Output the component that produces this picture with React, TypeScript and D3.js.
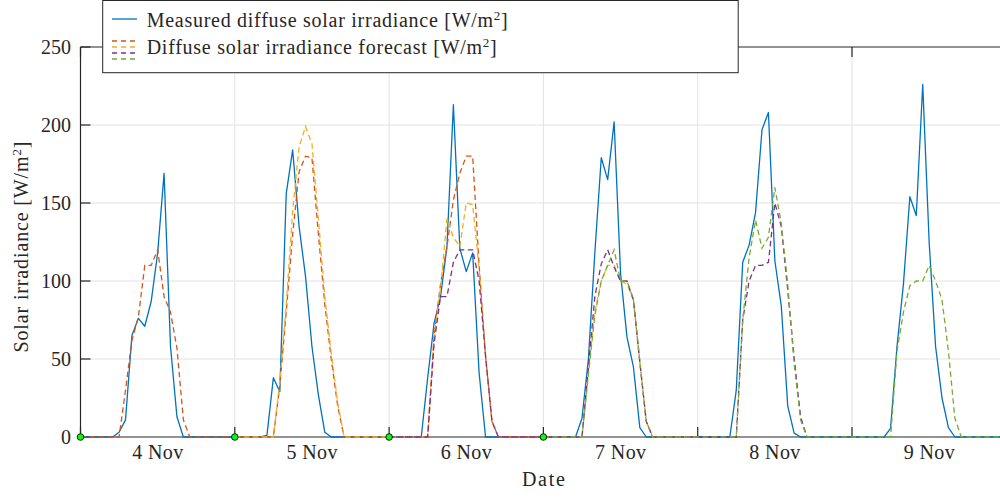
import React from "react";
import * as d3 from "d3";

// ---------- DATA (hourly values, index = hour of day) ----------
const days = ["4 Nov", "5 Nov", "6 Nov", "7 Nov", "8 Nov", "9 Nov"];
const yTicks = [0, 50, 100, 150, 200, 250];

const measuredNov4 = [0, 0, 0, 0, 0, 0, 3, 11, 65, 76, 71, 87, 118, 169, 58, 13, 0, 0, 0, 0, 0, 0, 0, 0];
const measuredNov5 = [0, 0, 0, 0, 0, 1, 38, 29, 156, 184, 135, 103, 58, 27, 3, 0, 0, 0, 0, 0, 0, 0, 0, 0];
const measuredNov6 = [0, 0, 0, 0, 0, 0, 38, 73, 90, 122, 213, 121, 106, 118, 41, 0, 0, 0, 0, 0, 0, 0, 0, 0];
const measuredNov7 = [0, 0, 0, 0, 0, 0, 12, 50, 118, 179, 165, 202, 105, 64, 45, 6, 0, 0, 0, 0, 0, 0, 0, 0];
const measuredNov8 = [0, 0, 0, 0, 0, 0, 30, 112, 123, 144, 197, 208, 113, 84, 20, 2.5, 0, 0, 0, 0, 0, 0, 0, 0];
const measuredNov9 = [0, 0, 0, 0, 0, 0, 5.5, 58, 98, 154, 142, 226, 125, 58, 25, 6, 0, 0, 0, 0, 0, 0, 0, 0];
const measuredEnd = [0];

// forecast issued 4 Nov 00:00 (72 h)
const forecast1Day1 = [0, 0, 0, 0, 0, 0, 0, 30, 62, 77, 110, 110, 120, 90, 80, 57, 11, 0, 0, 0, 0, 0, 0, 0];
const forecast1Day2 = [0, 0, 0, 0, 0, 0, 0, 33, 80, 130, 170, 180, 179, 130, 85, 50, 20, 0, 0, 0, 0, 0, 0, 0];
const forecast1Day3 = [0, 0, 0, 0, 0, 0, 0, 65, 98, 122, 152, 169, 180, 180, 110, 52, 10, 0, 0, 0, 0, 0, 0, 0];
// forecast issued 5 Nov 00:00
const forecast2Day1 = [0, 0, 0, 0, 0, 0, 0, 35, 85, 145, 186, 199, 188, 140, 90, 54, 22, 0, 0, 0, 0, 0, 0, 0];
const forecast2Day2 = [0, 0, 0, 0, 0, 0, 0, 65, 95, 140, 128, 122, 150, 149, 108, 52, 10, 0, 0, 0, 0, 0, 0, 0];
const forecast2Day3 = [0, 0, 0, 0, 0, 0, 0, 42, 80, 100, 110, 110, 100, 98, 88, 48, 10, 0, 0, 0, 0, 0, 0, 0];
// forecast issued 6 Nov 00:00
const forecast3Day1 = [0, 0, 0, 0, 0, 0, 0, 60, 90, 90, 112, 120, 120, 120, 100, 52, 10, 0, 0, 0, 0, 0, 0, 0];
const forecast3Day2 = [0, 0, 0, 0, 0, 0, 0, 45, 90, 111, 120, 109, 100, 100, 88, 48, 10, 0, 0, 0, 0, 0, 0, 0];
const forecast3Day3 = [0, 0, 0, 0, 0, 0, 0, 75, 100, 110, 110, 112, 150, 135, 94, 51, 13, 0, 0, 0, 0, 0, 0, 0];
// forecast issued 7 Nov 00:00
const forecast4Day1 = [0, 0, 0, 0, 0, 0, 0, 40, 78, 100, 110, 120, 100, 100, 88, 48, 10, 0, 0, 0, 0, 0, 0, 0];
const forecast4Day2 = [0, 0, 0, 0, 0, 0, 0, 75, 115, 139, 121, 128, 160, 137, 98, 47, 11, 0, 0, 0, 0, 0, 0, 0];
const forecast4Day3 = [0, 0, 0, 0, 0, 0, 0, 55, 80, 97, 100, 100, 110, 100, 88, 55, 12, 0, 0, 0, 0, 0, 0, 0];

const forecastStartDays = [0, 1, 2, 3]; // day index of issue (4, 5, 6, 7 Nov)

// ---------- STYLE ----------
const W = 1000;
const H = 497;
const C_BLUE = "#0072BD";
const FC_COLORS = ["#D95319", "#EDB120", "#7E2F8E", "#77AC30"];
const TXT = "#262626";
const FONT = "'Liberation Serif', 'DejaVu Serif', serif";

const t0 = Date.UTC(2023, 10, 4, 0, 0, 0);
const hourDate = (h: number) => new Date(t0 + h * 3600 * 1000);

const measured = [
  ...measuredNov4, ...measuredNov5, ...measuredNov6,
  ...measuredNov7, ...measuredNov8, ...measuredNov9, ...measuredEnd,
].map((v, i) => ({ t: hourDate(i), v }));

const forecastDays = [
  [forecast1Day1, forecast1Day2, forecast1Day3],
  [forecast2Day1, forecast2Day2, forecast2Day3],
  [forecast3Day1, forecast3Day2, forecast3Day3],
  [forecast4Day1, forecast4Day2, forecast4Day3],
];
const forecasts = forecastDays.map((arrs, k) => {
  const vals = [...arrs[0], ...arrs[1], ...arrs[2], 0];
  return vals.map((v, i) => ({ t: hourDate(forecastStartDays[k] * 24 + i), v }));
});

export default function App() {
  const left = 80.5;
  const right = 1006.3;
  const top = 47;
  const bottom = 437;

  const x = d3.scaleUtc().domain([hourDate(0), hourDate(144)]).range([left, right]);
  const y = d3.scaleLinear().domain([0, 250]).range([bottom, top]);

  const line = d3
    .line<{ t: Date; v: number }>()
    .x((d) => x(d.t))
    .y((d) => y(d.v));

  const dayTicks = d3.range(0, 7).map((d) => hourDate(d * 24));
  const noonTicks = days.map((_, i) => hourDate(i * 24 + 12));

  return (
    <svg
      width={W}
      height={H}
      viewBox={`0 0 ${W} ${H}`}
      style={{ position: "absolute", left: 0, top: 0, background: "#fff" }}
      fontFamily={FONT}
    >
      <defs>
        <clipPath id="plotclip">
          <rect x={left} y={top - 6} width={right - left} height={bottom - top + 10} />
        </clipPath>
      </defs>
      <rect x={0} y={0} width={W} height={H} fill="#fff" />

      {/* grid */}
      <g stroke="#e2e2e2" strokeWidth={1}>
        {dayTicks.slice(1, 6).map((d, i) => (
          <line key={"gx" + i} x1={x(d)} x2={x(d)} y1={top} y2={bottom} />
        ))}
        {yTicks.slice(1, 5).map((v) => (
          <line key={"gy" + v} x1={left} x2={right} y1={y(v)} y2={y(v)} />
        ))}
      </g>

      {/* axes box */}
      <g stroke={TXT} strokeWidth={1.2} fill="none">
        <line x1={left} x2={left} y1={top} y2={bottom} />
        <line x1={left} x2={right} y1={bottom} y2={bottom} />
        <line x1={left} x2={right} y1={top} y2={top} />
        <line x1={right} x2={right} y1={top} y2={bottom} />
        {yTicks.map((v) => (
          <line key={"ty" + v} x1={left} x2={left + 10} y1={y(v)} y2={y(v)} />
        ))}
        {dayTicks.map((d, i) => (
          <g key={"tx" + i}>
            <line x1={x(d)} x2={x(d)} y1={bottom} y2={bottom - 10} />
            <line x1={x(d)} x2={x(d)} y1={top} y2={top + 10} />
          </g>
        ))}
      </g>

      {/* data */}
      <g clipPath="url(#plotclip)" fill="none">
        <path d={line(measured) || ""} stroke={C_BLUE} strokeWidth={1.3} strokeLinejoin="round" />
        {forecasts.map((f, k) => (
          <path
            key={"f" + k}
            d={line(f) || ""}
            stroke={FC_COLORS[k]}
            strokeWidth={1.3}
            strokeDasharray="5.5,3.5"
          />
        ))}
      </g>

      {/* forecast issue markers */}
      {forecastStartDays.map((d) => (
        <circle
          key={"m" + d}
          cx={x(hourDate(d * 24))}
          cy={y(0)}
          r={3.3}
          fill="#00ff00"
          stroke="#1a1a1a"
          strokeWidth={1}
        />
      ))}

      {/* tick labels */}
      <g fill={TXT} fontSize={20}>
        {yTicks.map((v) => (
          <text key={"ly" + v} x={71} y={y(v) + 6.5} textAnchor="end">
            {v}
          </text>
        ))}
        {noonTicks.map((d, i) => (
          <text
            key={"lx" + i}
            x={x(d)}
            y={459}
            textAnchor="middle"
            textLength={51}
            lengthAdjust="spacing"
          >
            {days[i]}
          </text>
        ))}
        <text x={(left + right) / 2} y={486} textAnchor="middle" textLength={43} lengthAdjust="spacing">
          Date
        </text>
        <text
          transform={`translate(27.5,${(top + bottom) / 2 + 5}) rotate(-90)`}
          textAnchor="middle"
          textLength={211}
          lengthAdjust="spacing"
        >
          Solar irradiance [W/m
          <tspan dy={-7} fontSize={13}>2</tspan>
          <tspan dy={7}>]</tspan>
        </text>
      </g>

      {/* legend */}
      <g>
        <rect x={102.7} y={0.5} width={635.5} height={72.2} fill="#fff" stroke={TXT} strokeWidth={1} />
        <line x1={112} x2={137} y1={19} y2={19} stroke={C_BLUE} strokeWidth={1.3} />
        {FC_COLORS.map((c, i) => (
          <line
            key={"lg" + i}
            x1={112}
            x2={137}
            y1={41 + i * 6}
            y2={41 + i * 6}
            stroke={c}
            strokeWidth={1.3}
            strokeDasharray="5,4"
          />
        ))}
        <g fill={TXT} fontSize={20}>
          <text x={146.7} y={26.7} textLength={361} lengthAdjust="spacing">
            Measured diffuse solar irradiance [W/m
            <tspan dy={-7} fontSize={13}>2</tspan>
            <tspan dy={7}>]</tspan>
          </text>
          <text x={146.7} y={54} textLength={350} lengthAdjust="spacing">
            Diffuse solar irradiance forecast [W/m
            <tspan dy={-7} fontSize={13}>2</tspan>
            <tspan dy={7}>]</tspan>
          </text>
        </g>
      </g>
    </svg>
  );
}
